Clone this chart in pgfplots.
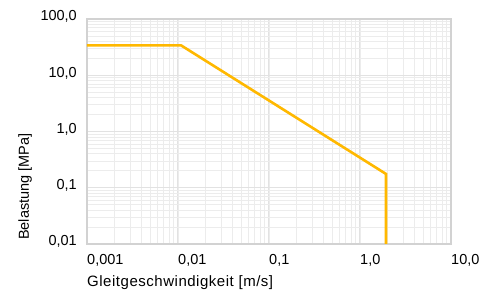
\documentclass[border=0pt]{standalone}
\usepackage{pgfplots}
\pgfplotsset{compat=1.18}
\usepackage{fontspec}
\setmainfont{Liberation Sans}
\newfontfamily\widefont[LetterSpace=3.5]{Liberation Sans}
\definecolor{linecol}{HTML}{FFB800}
\definecolor{frame}{HTML}{D2D2D2}
\definecolor{majgrid}{HTML}{E2E2E2}
\definecolor{mingrid}{HTML}{ECECEC}
\begin{document}
\fontsize{14.5}{17}\selectfont
\begin{tikzpicture}
\path (-87pt,-47pt) rectangle (397pt,244pt);
\begin{axis}[
  scale only axis,
  width=364pt, height=225pt,
  xmode=log, ymode=log,
  xmin=0.001, xmax=10, ymin=0.01, ymax=100,
  xtick={0.001,0.01,0.1,1,10},
  xticklabels={{0,001},{0,01},{0,1},{1,0},{10,0}},
  ytick={0.01,0.1,1,10,100},
  yticklabels={{0,01},{0,1},{1,0},{10,0},{100,0}},
  major tick length=0pt, minor tick length=0pt,
  grid=both,
  major grid style={draw=majgrid, line width=1pt},
  minor grid style={draw=mingrid, line width=0.8pt},
  axis line style={draw=frame, line width=1.6pt},
  xticklabel style={anchor=base west, inner sep=0pt, yshift=-20pt},
  yticklabel style={anchor=base east, inner sep=0pt, xshift=-10pt, yshift=-2pt},
  xlabel={Gleitgeschwindigkeit [m/s]},
  ylabel={Belastung [MPa]},
  xlabel style={at={(rel axis cs:0,-0.1911)}, anchor=base west, inner sep=0pt, font=\widefont\fontsize{15}{17}\selectfont},
  ylabel style={at={(rel axis cs:-0.1703,0.0178)}, anchor=west, inner sep=0pt},
  clip=false,
]
\addplot[color=linecol, line width=2.6pt, line join=miter] coordinates {
  (0.001,34) (0.0108,34) (1.93,0.176) (1.93,0.01)
};
\end{axis}
\end{tikzpicture}
\end{document}
